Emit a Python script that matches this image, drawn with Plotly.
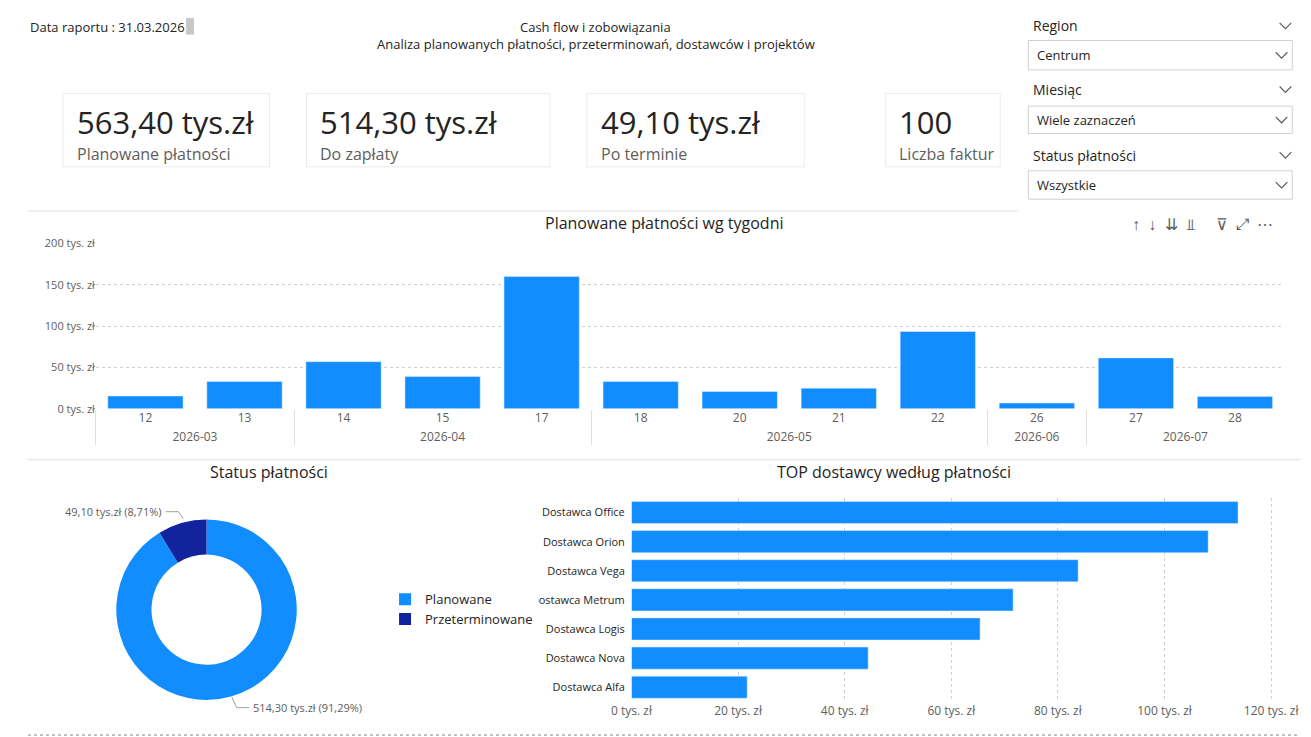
import plotly.graph_objects as go

W, H = 1311, 737

# dane
tygodnie = ["12", "13", "14", "15", "17", "18", "20", "21", "22", "26", "27", "28"]
miesiace = ["2026-03", "2026-03", "2026-04", "2026-04", "2026-04", "2026-05", "2026-05",
            "2026-05", "2026-05", "2026-06", "2026-07", "2026-07"]
platnosci_tyg = [15.5, 33, 57, 39, 160, 33, 21, 25, 93.5, 7, 61.5, 15]

dostawcy = ["Dostawca Alfa", "Dostawca Nova", "Dostawca Logis", "Dostawca Metrum",
            "Dostawca Vega", "Dostawca Orion", "Dostawca Office"]
platnosci_dost = [21.7, 44.4, 65.4, 71.6, 83.8, 108.2, 113.8]

status_labels = ["Planowane", "Przeterminowane"]
status_values = [514.30, 49.10]

kpi_values = ["563,40 tys.zł", "514,30 tys.zł", "49,10 tys.zł", "100"]
kpi_labels = ["Planowane płatności", "Do zapłaty", "Po terminie", "Liczba faktur"]

BLUE = "#118DFF"
NAVY = "#12239E"
FONT = "Segoe UI, Open Sans, sans-serif"


def px(x):
    return x / W


def py(y):
    return 1 - y / H


fig = go.Figure()

fig.add_trace(go.Bar(x=[miesiace, tygodnie], y=platnosci_tyg, marker_color=BLUE,
                     showlegend=False, xaxis="x", yaxis="y", hoverinfo="y"))
fig.add_trace(go.Bar(x=platnosci_dost, y=dostawcy, orientation="h", marker_color=BLUE,
                     showlegend=False, xaxis="x2", yaxis="y2", hoverinfo="x"))
fig.add_trace(go.Pie(labels=status_labels, values=status_values, hole=0.61, sort=False,
                     direction="clockwise", rotation=0, marker_colors=[BLUE, NAVY],
                     textinfo="none", domain=dict(x=[px(91), px(277)], y=[py(699), py(513)])))

fig.update_layout(
    width=W, height=H, margin=dict(l=0, r=0, t=0, b=0),
    paper_bgcolor="white", plot_bgcolor="white",
    font=dict(family=FONT, size=12, color="#252423"),
    bargap=0.24,
    xaxis=dict(domain=[px(70), px(1295)], type="multicategory", showgrid=False,
               tickfont=dict(size=12, color="#605E5C"), dividercolor="#E1DFDD"),
    yaxis=dict(domain=[py(401), py(232)], range=[0, 200], tickvals=[0, 50, 100, 150, 200],
               ticktext=["0 tys. zł", "50 tys. zł", "100 tys. zł", "150 tys. zł", "200 tys. zł"],
               gridcolor="#D0D0D0", griddash="dot", zeroline=False,
               tickfont=dict(size=11, color="#605E5C")),
    xaxis2=dict(domain=[px(622), px(1290)], range=[0, 121.6], anchor="y2",
                tickvals=[0, 20, 40, 60, 80, 100, 120],
                ticktext=["0 tys. zł", "20 tys. zł", "40 tys. zł", "60 tys. zł",
                          "80 tys. zł", "100 tys. zł", "120 tys. zł"],
                gridcolor="#D0D0D0", griddash="dot", zeroline=False,
                tickfont=dict(size=12, color="#605E5C")),
    yaxis2=dict(domain=[py(700), py(492)], anchor="x2", tickfont=dict(size=11, color="#252423"),
                ticksuffix="  "),
    legend=dict(x=px(368), y=py(580), xanchor="left", yanchor="top",
                font=dict(size=13, color="#252423"), itemwidth=30),
)

ann = []
shapes = []


def text(x, y, s, size=12, color="#252423", anchor="left", bold=False):
    ann.append(dict(x=px(x), y=py(y), xref="paper", yref="paper", text=f"<b>{s}</b>" if bold else s,
                    showarrow=False, xanchor=anchor, yanchor="middle",
                    font=dict(size=size, color=color, family=FONT)))


# nagłówek
text(0, 11, "Data raportu : 31.03.2026", 13)
shapes.append(dict(type="rect", xref="paper", yref="paper", x0=px(163), x1=px(171), y0=py(19), y1=py(2),
                   fillcolor="#C8C6C4", line_width=0))
text(585, 11, "Cash flow i zobowiązania", 13, anchor="center")
text(585, 29, "Analiza planowanych płatności, przeterminowań, dostawców i projektów", 13, anchor="center")

# karty KPI
cards = [(36, 249), (287, 538), (576, 800), (884, 1002)]
for (x0, x1), v, l in zip(cards, kpi_values, kpi_labels):
    shapes.append(dict(type="rect", xref="paper", yref="paper", x0=px(x0), x1=px(x1), y0=py(154), y1=py(79),
                       line=dict(color="#EDEBE9", width=1), fillcolor="white"))
    text(x0 + 12, 108, v, 31)
    text(x0 + 12, 141, l, 16, "#605E5C")

# fragmentatory
slicers = [("Region", 10, 25, 55, "Centrum"), ("Miesiąc", 75, 92, 120, "Wiele zaznaczeń"),
           ("Status płatności", 142, 158, 187, "Wszystkie")]
for title, ty, b0, b1, val in slicers:
    text(1034, ty, title, 14, bold=False)
    shapes.append(dict(type="rect", xref="paper", yref="paper", x0=px(1031), x1=px(1303), y0=py(b1), y1=py(b0),
                       line=dict(color="#D2D0CE", width=1)))
    text(1038, (b0 + b1) / 2, val, 13)
    for cx, cy in [(1296, ty), (1292, (b0 + b1) / 2)]:
        shapes.append(dict(type="path", xref="paper", yref="paper",
                           path=f"M {px(cx-6)} {py(cy-3)} L {px(cx)} {py(cy+3)} L {px(cx+6)} {py(cy-3)}",
                           line=dict(color="#605E5C", width=1.2)))

# separatory
shapes.append(dict(type="line", xref="paper", yref="paper", x0=0, x1=px(1020), y0=py(199), y1=py(199),
                   line=dict(color="#E1DFDD", width=1)))
shapes.append(dict(type="line", xref="paper", yref="paper", x0=0, x1=1, y0=py(453), y1=py(453),
                   line=dict(color="#E1DFDD", width=1)))
shapes.append(dict(type="line", xref="paper", yref="paper", x0=0, x1=1, y0=py(734), y1=py(734),
                   line=dict(color="#888888", width=1, dash="dot")))

# tytuły wykresów
text(656, 211, "Planowane płatności wg tygodni", 16, anchor="center")
text(248, 465, "Status płatności", 16, anchor="center")
text(893, 465, "TOP dostawcy według płatności", 16, anchor="center")
text(1210, 212, "↑  ↓  ⇊  ⫫     ⊽  ⤢  ⋯", 16, "#605E5C", anchor="center")

# etykiety donuta
text(140, 506, "49,10 tys.zł (8,71%)", 11, "#605E5C", anchor="right")
shapes.append(dict(type="path", xref="paper", yref="paper",
                   path=f"M {px(142)} {py(506)} L {px(155)} {py(506)} L {px(160)} {py(513)}",
                   line=dict(color="#A19F9D", width=1)))
text(230, 706, "514,30 tys.zł (91,29%)", 11, "#605E5C")
shapes.append(dict(type="path", xref="paper", yref="paper",
                   path=f"M {px(228)} {py(706)} L {px(215)} {py(706)} L {px(210)} {py(695)}",
                   line=dict(color="#A19F9D", width=1)))

fig.update_layout(annotations=ann, shapes=shapes)
fig.write_html("out.html")
